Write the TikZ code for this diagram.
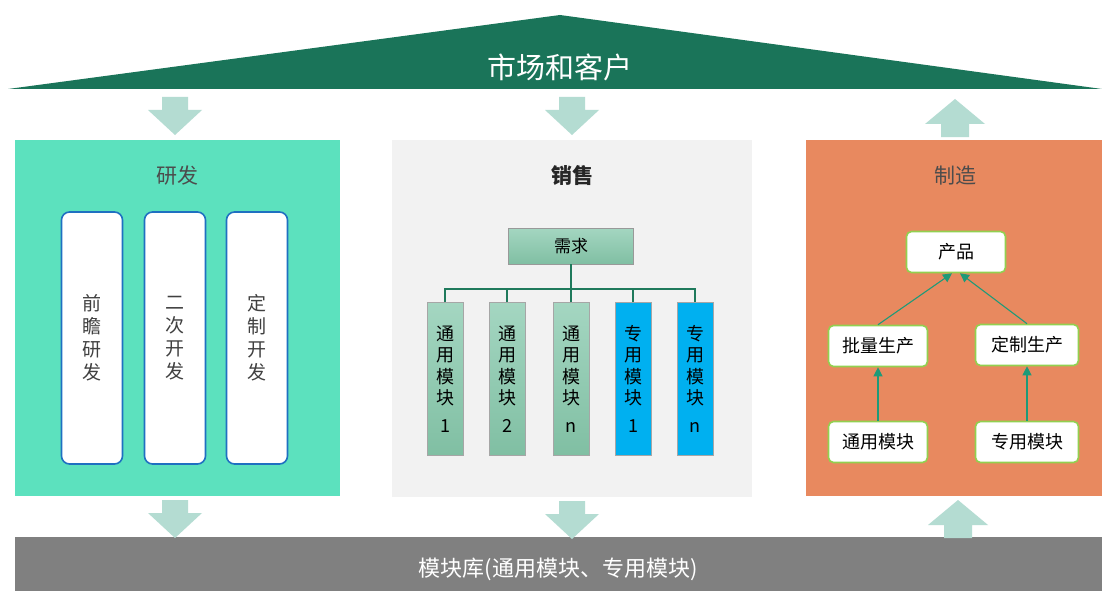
\documentclass[tikz,border=0pt]{standalone}
\usepackage{fontspec}
\setmainfont{Noto Sans CJK SC}
\usetikzlibrary{arrows.meta}
\definecolor{roofgreen}{HTML}{1A7459}
\definecolor{arrowmint}{HTML}{B4DCD2}
\definecolor{rdgreen}{HTML}{5CE1BE}
\definecolor{salesgray}{HTML}{F2F2F2}
\definecolor{mfgorange}{HTML}{E8895F}
\definecolor{bargray}{HTML}{808080}
\definecolor{devblue}{HTML}{1F70C1}
\definecolor{modgreentop}{HTML}{A4D6C1}
\definecolor{modgreen}{HTML}{80BFA3}
\definecolor{modblue}{HTML}{00B0F0}
\definecolor{linkgreen}{HTML}{1F7A5C}
\definecolor{prodgreen}{HTML}{92D050}
\definecolor{flowteal}{HTML}{1E9A78}
\begin{document}
\begin{tikzpicture}[x=1pt,y=-1pt,
    title/.style={font=\fontsize{21}{24}\selectfont, text=black!70},
    devbox/.style={draw=devblue, line width=1.6pt, fill=white, rounded corners=8pt,
      minimum width=61pt, minimum height=252pt, align=center,
      font=\fontsize{19}{23}\selectfont, text=black!75},
    modbox/.style 2 args={draw=black!35, line width=0.8pt, top color=#1, bottom color=#2,
      minimum width=36pt, minimum height=153pt, anchor=north, align=center,
      font=\fontsize{18}{21.5}\selectfont, inner sep=0pt},
    link/.style={draw=linkgreen, line width=1.6pt},
    mfgbox/.style={draw=prodgreen, line width=1.6pt, fill=white, rounded corners=5pt,
      minimum width=99pt, minimum height=41pt, font=\fontsize{18}{21}\selectfont},
    flow/.style={draw=flowteal, line width=1.1pt, -{Triangle[width=9pt,length=9pt]}}]
  \useasboundingbox (0,0) rectangle (1102,591);
  \fill[white] (0,0) rectangle (1102,591);

  % roof
  \fill[roofgreen] (8,89) -- (560,15) -- (1102,89) -- cycle;
  \node[text=white, font=\fontsize{29}{32}\selectfont] (market) at (560,67) {市场和客户};

  % panels
  \fill[rdgreen] (15,140) rectangle (340,496);
  \fill[salesgray] (392,140) rectangle (752,497);
  \fill[mfgorange] (806,140) rectangle (1102,496);
  \fill[bargray] (15,537) rectangle (1102,591);
  \node[text=white, font=\fontsize{22}{26}\selectfont] (lib) at (558,569) {模块库(通用模块、专用模块)};

  % big arrows
  \foreach \x/\y in {175/97, 572/97, 175/500, 572/501}{
    \fill[arrowmint] (\x-13,\y) -- (\x+13,\y) -- (\x+13,\y+13) -- (\x+27,\y+13)
      -- (\x,\y+38) -- (\x-27,\y+13) -- (\x-13,\y+13) -- cycle;
  }
  \foreach \x/\y in {955/99, 958/500}{
    \fill[arrowmint] (\x,\y) -- (\x+30,\y+25) -- (\x+14,\y+25) -- (\x+14,\y+38)
      -- (\x-14,\y+38) -- (\x-14,\y+25) -- (\x-30,\y+25) -- cycle;
  }

  % R&D
  \node[title] (rd) at (177,176) {研发};
  \node[devbox] (pre) at (92,338) {前\\瞻\\研\\发};
  \node[devbox] (sec) at (175,338) {二\\次\\开\\发};
  \node[devbox] (cus) at (257,338) {定\\制\\开\\发};

  % sales
  \node[title, text=black!85, font=\fontsize{21}{24}\selectfont\bfseries] (sales) at (572,175) {销售};
  \node[draw=black!40, line width=0.8pt, top color=modgreentop, bottom color=modgreen,
    minimum width=125pt, minimum height=36pt, font=\fontsize{17}{20}\selectfont] (req) at (571,246) {需求};
  \foreach \n/\x/\ct/\cb/\t in {m1/445/modgreentop/modgreen/通\\用\\模\\块\\[6pt]1,
      m2/507/modgreentop/modgreen/通\\用\\模\\块\\[6pt]2,
      m3/571/modgreentop/modgreen/通\\用\\模\\块\\[6pt]n,
      m4/633/modblue/modblue/专\\用\\模\\块\\[6pt]1,
      m5/695/modblue/modblue/专\\用\\模\\块\\[6pt]n}{
    \node[modbox={\ct}{\cb}] (\n) at (\x,302) {\t};
    \draw[link] (\n.north) -- ++(0,-13) -| (req.south);
  }

  % manufacturing
  \node[title] (mfg) at (955,176) {制造};
  \node[mfgbox] (prod) at (956,252) {产品};
  \node[mfgbox] (batch) at (878,346) {批量生产};
  \node[mfgbox, minimum width=103pt] (made) at (1027,345) {定制生产};
  \node[mfgbox] (gen) at (878,442) {通用模块};
  \node[mfgbox, minimum width=103pt] (spec) at (1027,442) {专用模块};
  \draw[flow] (batch.north) -- ([xshift=-4pt]prod.south);
  \draw[flow] (made.north) -- ([xshift=4pt]prod.south);
  \draw[flow] (gen.north) -- (batch.south);
  \draw[flow] (spec.north) -- (made.south);

\end{tikzpicture}
\end{document}
